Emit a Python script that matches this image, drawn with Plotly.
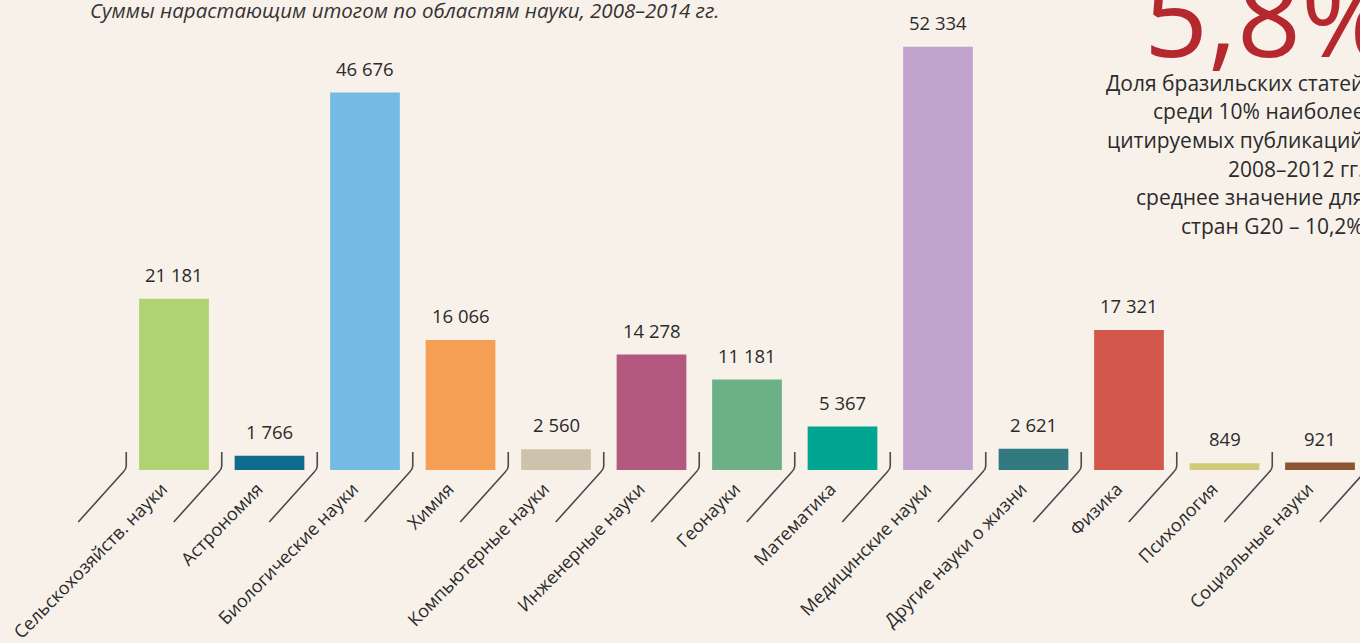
import plotly.graph_objects as go

categories = ["Сельскохозяйств. науки", "Астрономия", "Биологические науки", "Химия",
              "Компьютерные науки", "Инженерные науки", "Геонауки", "Математика",
              "Медицинские науки", "Другие науки о жизни", "Физика", "Психология",
              "Социальные науки"]
values = [21181, 1766, 46676, 16066, 2560, 14278, 11181, 5367, 52334, 2621, 17321, 849, 921]
colors = ["#afd373", "#0f6c8f", "#73bbe5", "#f59f55", "#cdc3ad", "#b3587f", "#6bb185",
          "#00a68f", "#c0a3cd", "#327a80", "#d4574b", "#d0c978", "#8a5634"]

subtitle = "Суммы нарастающим итогом по областям науки, 2008–2014 гг."
big_number = "5,8%"
side_text = ["Доля бразильских статей", "среди 10% наиболее", "цитируемых публикаций",
             "2008–2012 гг.", "среднее значение для", "стран G20 – 10,2%"]
side_y = [83, 112, 141, 170, 198, 227]

BG = "#f7f1ea"
W, H = 1360, 643
T, B = 20, 170
PH = H - T - B


def py(p):
    return (H - B - p) / PH


fig = go.Figure()
fig.add_trace(go.Bar(x=categories, y=values, marker=dict(color=colors, line=dict(width=0)),
                     width=0.73, hoverinfo="skip"))

for c, v in zip(categories, values):
    fig.add_annotation(x=c, y=v, xref="x", yref="y", text=f"{v:,}".replace(",", " "),
                       showarrow=False, yanchor="bottom", yshift=10,
                       font=dict(family="Open Sans", size=18.5, color="#2b2b2b"))

# slanted tick marks between categories
for i in range(len(categories) + 1):
    fig.add_shape(type="path", xref="x", xsizemode="pixel", xanchor=i - 0.5,
                  yref="paper", ysizemode="pixel", yanchor=0,
                  path="M 0,18 L 0,4 Q 0,1 -3,-2 L -48,-52",
                  line=dict(color="#4a4a4a", width=1.6))

fig.add_annotation(x=88 / W, y=py(10), xref="paper", yref="paper",
                   xanchor="left", yanchor="middle", text=f"<i>{subtitle}</i>", showarrow=False,
                   font=dict(family="Open Sans", size=20.5, color="#333333"))

fig.add_annotation(x=1142 / W, y=py(62), xref="paper", yref="paper",
                   xanchor="left", yanchor="bottom", yshift=-30, text=big_number, showarrow=False,
                   font=dict(family="Open Sans", size=112, color="#b5282e"))

for line, yy in zip(side_text, side_y):
    fig.add_annotation(x=1366 / W, y=py(yy), xref="paper", yref="paper",
                       xanchor="right", yanchor="middle", text=line, showarrow=False,
                       font=dict(family="Open Sans", size=21, color="#2b2b2b"))

x0 = -174 / 95.5
fig.update_layout(
    width=W, height=H, paper_bgcolor=BG, plot_bgcolor=BG,
    margin=dict(l=0, r=0, t=T, b=B), showlegend=False,
    xaxis=dict(range=[x0, x0 + W / 95.5], tickangle=-45.5, showgrid=False, zeroline=False,
               showline=False, ticks="", ticklabelshift=-12, ticklabelstandoff=4,
               tickfont=dict(family="Open Sans", size=18, color="#2b2b2b")),
    yaxis=dict(range=[0, PH / ((473 - 47) / 52334)], visible=False, showgrid=False),
)
fig.write_html("out.html", config={"displayModeBar": False},
               post_script="document.body.style.margin='0';")
